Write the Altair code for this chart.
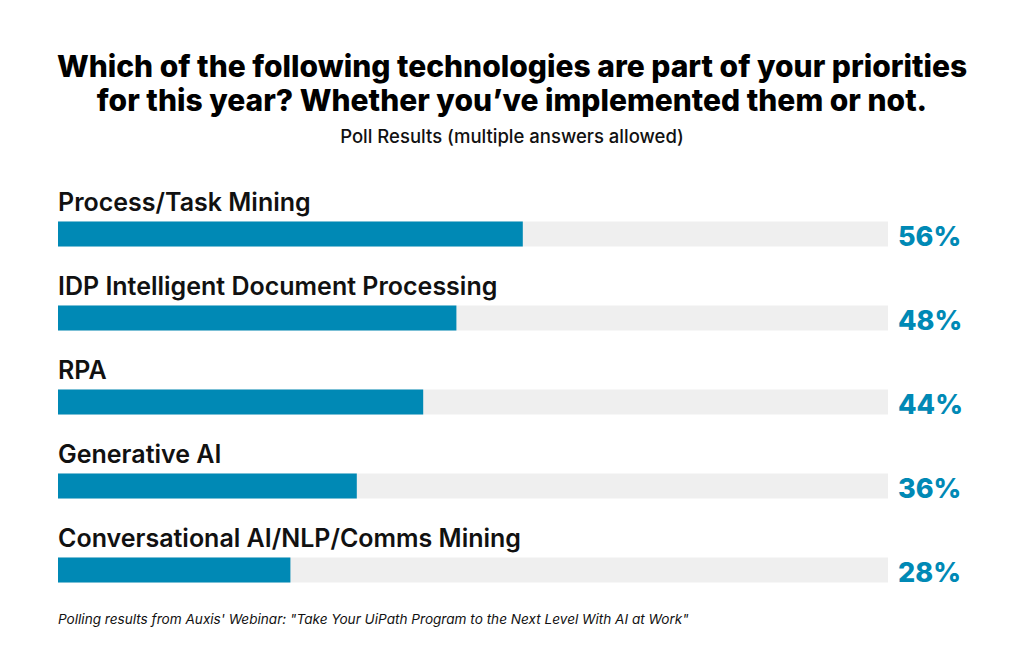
import altair as alt
import pandas as pd

categories = [
    "Process/Task Mining",
    "IDP Intelligent Document Processing",
    "RPA",
    "Generative AI",
    "Conversational AI/NLP/Comms Mining",
]
values = [56, 48, 44, 36, 28]
footnote = 'Polling results from Auxis\' Webinar: "Take Your UiPath Program to the Next Level With AI at Work"'

df = pd.DataFrame({
    "cat": categories,
    "val": values,
    "idx": list(range(len(categories))),
    "full": [100] * len(categories),
    "zero": [0] * len(categories),
    "pct": [f"{v}%" for v in values],
})

BLUE = "#0089B5"
GREY = "#EFEFEF"
FONT = "Inter"

xs = alt.Scale(domain=[0, 100], range=[58, 888])
ys = alt.Scale(domain=[0, 4], range=[84, 420])

base = alt.Chart(df)

bg = base.mark_rule(color=GREY, strokeWidth=25, strokeCap="butt").encode(
    x=alt.X("zero:Q", scale=xs, axis=None),
    x2="full:Q",
    y=alt.Y("idx:Q", scale=ys, axis=None),
)
fg = base.mark_rule(color=BLUE, strokeWidth=25, strokeCap="butt").encode(
    x=alt.X("zero:Q", scale=xs, axis=None),
    x2="val:Q",
    y=alt.Y("idx:Q", scale=ys, axis=None),
)
labels = base.mark_text(
    align="left", baseline="alphabetic", dy=-23, font=FONT, fontSize=25,
    fontWeight=600, color="#111111",
).encode(
    x=alt.X("zero:Q", scale=xs, axis=None),
    y=alt.Y("idx:Q", scale=ys, axis=None),
    text="cat:N",
)
pcts = base.mark_text(
    align="left", baseline="middle", dx=10, dy=4, font=FONT, fontSize=27,
    fontWeight=800, color=BLUE,
).encode(
    x=alt.X("full:Q", scale=xs, axis=None),
    y=alt.Y("idx:Q", scale=ys, axis=None),
    text="pct:N",
)
note = alt.Chart(pd.DataFrame({"t": [footnote]})).mark_text(
    align="left", baseline="middle", font=FONT, fontSize=13.6, fontStyle="italic",
    color="#111111",
).encode(x=alt.value(58), y=alt.value(470), text="t:N")

chart = alt.layer(bg, fg, labels, pcts, note).properties(
    width=1024,
    height=507,
    padding={"top": 150, "left": 0, "right": 0, "bottom": 0},
    autosize=alt.AutoSizeParams(type="none"),
    background="white",
    title=alt.TitleParams(
        text=["Which of the following technologies are part of your priorities",
              "for this year? Whether you\u2019ve implemented them or not."],
        subtitle="Poll Results (multiple answers allowed)",
        anchor="middle",
        frame="group",
        font=FONT,
        fontSize=30,
        fontWeight=800,
        color="#000000",
        lineHeight=34,
        subtitleFont=FONT,
        subtitleFontSize=18.5,
        subtitleFontWeight=500,
        subtitleColor="#111111",
        subtitlePadding=11,
        offset=4,
    ),
).configure_view(stroke=None)

chart.save("out.html", embed_options={"renderer": "svg", "actions": False})
